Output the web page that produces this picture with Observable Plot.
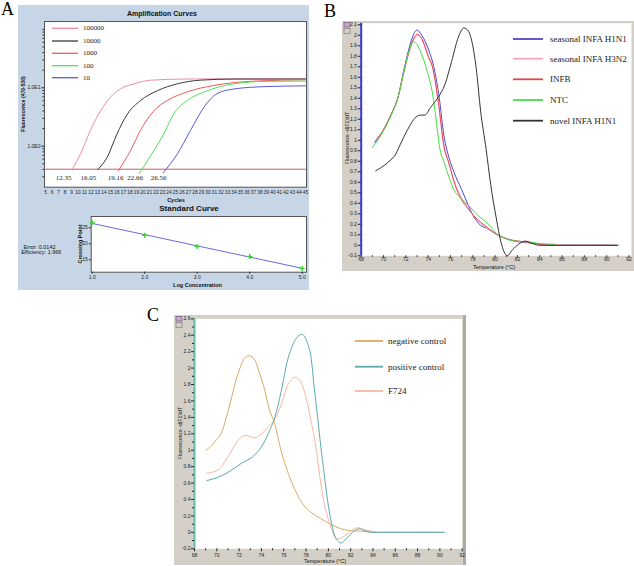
<!DOCTYPE html>
<html><head><meta charset="utf-8">
<script src="https://cdn.jsdelivr.net/npm/d3@7"></script>
<script src="https://cdn.jsdelivr.net/npm/@observablehq/plot@0.6"></script>
<style>
html,body{margin:0;padding:0;background:#fff;}
#root{position:relative;width:634px;height:566px;overflow:hidden;font-family:'Liberation Sans',Arial,sans-serif;}
.abs{position:absolute;}
.abs svg{max-width:none;}
</style></head><body><div id="root"></div>
<script>
// ---------- Panel A: amplification curves ----------
const ampSeries = ["100000", "10000", "1000", "100", "10"];
const ampColors = ["#f08ca4", "#3a3a3a", "#f05a5a", "#55e055", "#5a5ad8"];
const cyc100000 = [9.1, 10.4, 11.9, 13.5, 15.0, 16.5, 18.6, 21.2, 26.3, 35, 45];
const flu100000 = [0.40, 0.74, 1.86, 4.07, 6.92, 9.55, 11.7, 13.5, 14.1, 14.3, 14.3];
const cyc10000 = [13.05, 14.5, 16.0, 17.6, 19.6, 22.2, 25.3, 28.8, 34, 45];
const flu10000 = [0.40, 0.65, 1.62, 3.55, 6.03, 8.91, 11.7, 13.5, 14.1, 14.1];
const cyc1000 = [16.2, 18.1, 19.6, 21.7, 23.7, 26.8, 30.9, 36.5, 45];
const flu1000 = [0.38, 0.85, 1.86, 4.07, 6.03, 8.51, 10.96, 12.9, 13.7];
const cyc100 = [19.4, 21.7, 23.2, 24.7, 26.8, 29.9, 34, 39.1, 45];
const flu100 = [0.34, 0.85, 1.62, 3.55, 6.03, 8.91, 11.7, 12.9, 13.0];
const cyc10 = [23.1, 25.3, 27.3, 29.4, 31.4, 34, 39.1, 45];
const flu10 = [0.35, 0.74, 1.86, 4.68, 7.94, 9.55, 10.5, 10.8];
const threshold = 0.404;
const ctLabels = ["12.35", "16.05", "19.16", "22.66", "26.56"];
const ctLabelCycle = [7.8, 11.6, 15.8, 18.8, 22.4];
const cycleTicks = d3.range(5, 46);
// Standard curve
const logConc = [1, 2, 3, 4, 5];
const crossingPoint = [26.56, 22.66, 19.16, 16.05, 12.35];
const stdError = "Error: 0.0142";
const stdEff = "Efficiency: 1.966";

// ---------- Panel B: melting curves ----------
const bSeries = ["seasonal INFA H1N1", "seasonal INFA H3N2", "INFB", "NTC", "novel INFA H1N1"];
const bColors = ["#4848c8", "#f4a6bc", "#e4434f", "#44e044", "#333333"];
const tH1N1 = [69.2, 70.0, 70.7, 71.3, 71.8, 72.3, 72.7, 73.0, 73.3, 73.9, 74.5, 75.0, 75.4, 75.7, 76.3, 77.0, 77.6, 78.1, 78.7, 79.3, 80.2, 81.1, 82.0, 82.9, 84.1, 85.3, 91.0];
const vH1N1 = [0.98, 1.10, 1.25, 1.41, 1.66, 1.88, 2.01, 2.05, 2.02, 1.90, 1.70, 1.40, 1.05, 0.90, 0.70, 0.53, 0.38, 0.27, 0.19, 0.16, 0.10, 0.06, 0.035, 0.025, 0.01, 0, 0];
const tH3N2 = [69.3, 70.0, 70.7, 71.3, 71.8, 72.3, 72.7, 73.1, 73.5, 74.0, 74.4, 74.9, 75.4, 75.9, 76.3, 76.9, 77.5, 78.1, 78.7, 79.3, 80.2, 81.1, 82.0, 82.9, 84.1, 85.3, 90.7];
const vH3N2 = [0.97, 1.10, 1.25, 1.41, 1.64, 1.84, 1.95, 2.00, 1.96, 1.81, 1.70, 1.40, 0.97, 0.76, 0.62, 0.47, 0.37, 0.28, 0.21, 0.16, 0.10, 0.06, 0.04, 0.03, 0.01, 0, 0];
const tINFB = [69.3, 70.0, 70.7, 71.3, 71.8, 72.3, 72.7, 73.0, 73.4, 74.0, 74.4, 74.9, 75.4, 75.9, 76.3, 76.9, 77.5, 78.1, 78.7, 79.3, 80.2, 81.1, 82.0, 82.9, 84.1, 85.3, 90.7];
const vINFB = [1.00, 1.10, 1.25, 1.41, 1.64, 1.85, 1.97, 2.01, 1.97, 1.80, 1.69, 1.37, 0.95, 0.77, 0.61, 0.45, 0.36, 0.28, 0.22, 0.17, 0.10, 0.06, 0.04, 0.03, 0.01, 0, 0];
const tNTC = [69.0, 69.6, 70.3, 70.7, 71.3, 71.8, 72.2, 72.7, 73.3, 73.9, 74.4, 74.7, 75.0, 75.5, 75.9, 76.3, 76.9, 77.8, 78.4, 79.1, 79.6, 80.2, 80.8, 81.7, 82.9, 84.1, 85.4];
const vNTC = [0.93, 1.02, 1.15, 1.24, 1.41, 1.64, 1.82, 1.94, 1.85, 1.66, 1.44, 1.21, 0.95, 0.77, 0.64, 0.53, 0.45, 0.36, 0.29, 0.23, 0.18, 0.10, 0.07, 0.04, 0.035, 0.015, 0.01];
const tNovel = [69.3, 70.4, 71.1, 71.5, 72.1, 72.9, 73.3, 73.7, 74.2, 74.9, 75.5, 76.1, 76.7, 77.2, 77.6, 78.3, 78.7, 79.2, 79.6, 80.1, 80.5, 81.1, 81.5, 82.1, 82.7, 83.4, 84.0, 91.0];
const vNovel = [0.71, 0.79, 0.87, 0.96, 1.09, 1.22, 1.24, 1.24, 1.31, 1.41, 1.53, 1.75, 1.98, 2.07, 2.04, 1.69, 1.28, 0.91, 0.58, 0.26, 0.04, -0.10, -0.05, 0.01, 0.04, 0.015, 0, 0];

// ---------- Panel C: melting curves ----------
const cSeries = ["negative control", "positive control", "F724"];
const cColors = ["#d9a962", "#5eaaaa", "#f7b6a4"];
const tNeg = [69.05, 69.8, 70.5, 71.0, 71.9, 72.5, 72.9, 73.4, 73.8, 74.3, 74.7, 75.2, 75.75, 76.35, 77.0, 77.8, 78.4, 79.3, 80.2, 81.1, 82.0, 82.9, 84.1, 90.4];
const vNeg = [1.00, 1.10, 1.24, 1.47, 1.93, 2.12, 2.15, 2.10, 1.95, 1.73, 1.50, 1.32, 1.00, 0.74, 0.52, 0.33, 0.25, 0.17, 0.10, 0.045, 0.02, 0.015, 0, 0];
const tPos = [69.1, 70.1, 71.0, 72.2, 73.2, 74.0, 74.6, 75.2, 75.76, 76.35, 76.94, 77.39, 77.63, 78.14, 78.44, 78.73, 79.04, 79.33, 79.63, 79.93, 80.23, 80.52, 80.83, 81.12, 81.57, 82.17, 82.76, 83.36, 84.0, 90.4];
const vPos = [0.63, 0.67, 0.73, 0.84, 0.92, 1.04, 1.20, 1.40, 1.71, 2.10, 2.32, 2.40, 2.41, 2.30, 2.14, 1.77, 1.40, 1.04, 0.71, 0.39, 0.15, -0.02, -0.10, -0.13, -0.08, 0.0, 0.045, 0.016, 0, 0];
const tF724 = [69.1, 70.1, 71.0, 71.9, 72.6, 73.4, 74.0, 74.6, 75.3, 75.76, 76.35, 77.1, 77.54, 77.99, 78.44, 78.73, 79.04, 79.33, 79.63, 79.93, 80.23, 80.52, 80.83, 81.27, 81.86, 82.6, 83.2, 83.8, 84.4, 90.4];
const vF724 = [0.72, 0.76, 0.92, 1.12, 1.18, 1.15, 1.20, 1.28, 1.40, 1.55, 1.79, 1.89, 1.83, 1.65, 1.36, 1.16, 0.88, 0.59, 0.35, 0.19, 0.065, -0.04, -0.08, -0.06, 0.0, 0.057, 0.033, 0.016, 0, 0];

// ---------- helpers ----------
const root = document.getElementById("root");
function box(l, t, w, h, bg) {
  const d = document.createElement("div"); d.className = "abs";
  Object.assign(d.style, {left: l + "px", top: t + "px", width: w + "px", height: h + "px", background: bg});
  root.appendChild(d); return d;
}
function place(svg, l, t) {
  const d = document.createElement("div"); d.className = "abs";
  d.style.left = l + "px"; d.style.top = t + "px";
  d.appendChild(svg); root.appendChild(d);
}
const sans = "'Liberation Sans', Arial, sans-serif";
const serif = "'Liberation Serif', 'Times New Roman', serif";
const baseStyle = {background: "transparent", fontFamily: sans, fontSize: "5px", color: "#222", overflow: "visible"};
const fmt1 = d => String(+d.toFixed(1));

// ---------- backgrounds ----------
box(18, 5, 291, 285, "#c6d6e6");
box(342, 21, 292, 250, "#d4d0c8");
box(174, 315, 292, 250, "#d4d0c8");
box(462.5, 315, 3.5, 250, "#aeaaa4");

// ---------- A: amplification ----------
const amp = ampSeries.flatMap((s, i) => {
  const cs = [cyc100000, cyc10000, cyc1000, cyc100, cyc10][i];
  const fs = [flu100000, flu10000, flu1000, flu100, flu10][i];
  return cs.map((c, j) => ({series: s, cycle: c, f: fs[j]}));
});
const minorLog = [0.3,0.4,0.5,0.6,0.7,0.8,0.9,2,3,4,5,6,7,8,9,20,30,40,50,60,70,80,90,100];
place(Plot.plot({
  width: 291, height: 200, marginLeft: 26, marginRight: 3, marginTop: 16, marginBottom: 18.3,
  style: baseStyle,
  x: {domain: [4.85, 45.15]},
  y: {type: "log", domain: [10 ** -0.702, 10 ** 2.135]},
  color: {domain: ampSeries, range: ampColors},
  marks: [
    Plot.frame({fill: "white", stroke: "#555"}),
    Plot.ruleY([threshold], {stroke: "#c8605a", strokeWidth: 1}),
    Plot.line(amp, {x: "cycle", y: "f", z: "series", stroke: "series", curve: "monotone-x", strokeWidth: 1}),
    Plot.text(ctLabels, {x: (d, i) => ctLabelCycle[i], y: () => threshold, dy: 8.5, text: d => d, fontFamily: serif, fontSize: 7, fill: "#222"}),
    Plot.axisX({ticks: cycleTicks, tickSize: 0, tickPadding: 3, fontSize: 4.8, label: null}),
    Plot.axisY({ticks: minorLog, tickSize: 1.5, tickFormat: () => "", label: null}),
    Plot.axisY({ticks: [1, 10], tickFormat: d => d === 1 ? "1.0E0" : "1.0E1", tickSize: 2.5, tickPadding: 1.5, label: null})
  ]
}), 18, 5);

// ---------- A: standard curve ----------
const std = logConc.map((c, i) => ({c, cp: crossingPoint[i]}));
place(Plot.plot({
  width: 291, height: 85, marginLeft: 72.7, marginRight: 3, marginTop: 11, marginBottom: 18.3,
  style: baseStyle,
  x: {domain: [0.981, 5.082]},
  y: {domain: [11.13, 28.53]},
  marks: [
    Plot.frame({fill: "white", stroke: "#555"}),
    Plot.linearRegressionY(std, {x: "c", y: "cp", stroke: "#6a6ad8", strokeWidth: 1, ci: 0}),
    Plot.dot(std, {x: "c", y: "cp", symbol: "plus", r: 1.8, stroke: "#2ed82e", strokeWidth: 1.3}),
    Plot.axisX({ticks: logConc, tickSize: 2, tickPadding: 1, label: null}),
    Plot.axisY({ticks: [15, 20, 25], tickSize: 2, tickPadding: 1.4, label: null})
  ]
}), 18, 205);

// ---------- B ----------
const bT = [tH1N1, tH3N2, tINFB, tNTC, tNovel];
const bV = [vH1N1, vH3N2, vINFB, vNTC, vNovel];
const bData = bSeries.flatMap((s, i) => bT[i].map((t, j) => ({series: s, t, v: bV[i][j]})));
const bX = [68, 92.22];
place(Plot.plot({
  width: 292, height: 250, marginLeft: 18.7, marginRight: 3, marginTop: 1.7, marginBottom: 15.7,
  style: baseStyle,
  x: {domain: bX},
  y: {domain: [-0.1, 2.115]},
  color: {domain: bSeries, range: bColors},
  marks: [
    Plot.frame({fill: "white", stroke: null}),
    Plot.line(bData, {x: "t", y: "v", z: "series", stroke: "series", curve: "monotone-x", strokeWidth: 1}),
    Plot.ruleX([bX[0]], {stroke: "#3a3ad2", strokeWidth: 2}),
    Plot.axisY({ticks: d3.range(-1, 22).map(k => k / 10), tickFormat: fmt1, tickSize: 3, tickPadding: 1.3, label: null}),
    Plot.axisX({ticks: d3.range(69, 92, 2), tickFormat: () => "", tickSize: 1.5, label: null}),
    Plot.axisX({ticks: d3.range(68, 93, 2), tickSize: 2, tickPadding: -0.3, label: null})
  ]
}), 342, 21);

// ---------- C ----------
const cT = [tNeg, tF724, tPos];
const cV = [vNeg, vF724, vPos];
const cOrder = [cSeries[0], cSeries[2], cSeries[1]];
const cData = cOrder.flatMap((s, i) => cT[i].map((t, j) => ({series: s, t, v: cV[i][j]})));
const cX = [68, 92];
place(Plot.plot({
  width: 292, height: 250, marginLeft: 20, marginRight: 4.3, marginTop: 3.3, marginBottom: 16.7,
  style: baseStyle,
  x: {domain: cX},
  y: {domain: [-0.2, 2.6]},
  color: {domain: cSeries, range: cColors},
  marks: [
    Plot.frame({fill: "white", stroke: null}),
    Plot.line(cData, {x: "t", y: "v", z: "series", stroke: "series", curve: "monotone-x", strokeWidth: 1}),
    Plot.ruleX([cX[0]], {stroke: "#62bcac", strokeWidth: 2}),
    Plot.axisY({ticks: d3.range(-1, 26, 2).map(k => k / 10), tickFormat: () => "", tickSize: 2, label: null}),
    Plot.axisY({ticks: d3.range(-2, 27, 2).map(k => k / 10), tickFormat: fmt1, tickSize: 3, tickPadding: 1, label: null}),
    Plot.axisX({ticks: d3.range(69, 92, 2), tickFormat: () => "", tickSize: 2, label: null}),
    Plot.axisX({ticks: d3.range(68, 93, 2), tickSize: 3, tickPadding: 1.5, label: null})
  ]
}), 174, 315);

// ---------- overlay texts / legends ----------
const ov = d3.create("svg").attr("width", 634).attr("height", 566)
  .style("position", "absolute").style("left", "0px").style("top", "0px").style("overflow", "visible");
root.appendChild(ov.node());
function txt(x, y, s, o = {}) {
  const e = ov.append("text").attr("x", x).attr("y", y).text(s)
    .attr("font-family", o.ff || sans).attr("font-size", o.fs || 5)
    .attr("text-anchor", o.anchor || "middle").attr("dominant-baseline", o.base || "central")
    .attr("font-weight", o.fw || "normal").attr("fill", o.fill || "#111");
  if (o.rot) e.attr("transform", `rotate(${o.rot},${x},${y})`);
  return e;
}
function seg(x1, x2, y, c, w) {
  ov.append("line").attr("x1", x1).attr("x2", x2).attr("y1", y).attr("y2", y).attr("stroke", c).attr("stroke-width", w);
}
// panel letters
txt(1, 15, "A", {ff: serif, fs: 18, anchor: "start", base: "auto", fill: "#000"});
txt(324, 16.7, "B", {ff: serif, fs: 18, anchor: "start", base: "auto", fill: "#000"});
txt(147, 321, "C", {ff: serif, fs: 18, anchor: "start", base: "auto", fill: "#000"});
// A titles
txt(162, 13, "Amplification Curves", {fs: 7, fw: "bold"});
txt(23, 104, "Fluorescence (470-530)", {fs: 5, fw: "bold", rot: -90});
txt(176, 199.5, "Cycles", {fs: 5.5, fw: "bold"});
txt(189, 208.5, "Standard Curve", {fs: 8, fw: "bold"});
txt(80, 244, "Crossing Point", {fs: 5.5, fw: "bold", rot: -90});
txt(197.5, 285, "Log Concentration", {fs: 5.5, fw: "bold"});
txt(39.5, 246.7, stdError, {fs: 5.5});
txt(41.3, 251.7, stdEff, {fs: 5.5});
// A legend
const aLegY = [28.3, 41, 53.3, 65.7, 77.7];
ampSeries.forEach((s, i) => { seg(52, 78, aLegY[i], ampColors[i], 1.3); txt(83, aLegY[i], s, {ff: serif, fs: 7, anchor: "start", fill: "#222"}); });
// B labels + legend
txt(347, 138, "Fluorescence -d(F1)/dT", {fs: 5, rot: -90});
txt(494, 267.3, "Temperature (\u00B0C)", {fs: 5.5});
const bLegY = [39, 58.7, 79.3, 100, 120.7];
bSeries.forEach((s, i) => { seg(513, 543, bLegY[i], bColors[i], 1.8); txt(550, bLegY[i], s, {ff: serif, fs: 9, anchor: "start", fill: "#222"}); });
// C labels + legend
txt(180, 433, "Fluorescence -d(F1)/dT", {fs: 5, rot: -90});
txt(325, 561, "Temperature (\u00B0C)", {fs: 5.5});
const cLegY = [341, 366.7, 391];
cSeries.forEach((s, i) => { seg(355, 383, cLegY[i], cColors[i], 1.8); txt(388, cLegY[i], s, {ff: serif, fs: 9, anchor: "start", fill: "#222"}); });
// small toolbar icons in B and C frames
[[344, 22.5], [176, 316.5]].forEach(([x, y]) => {
  ov.append("rect").attr("x", x).attr("y", y).attr("width", 6).attr("height", 4.5).attr("fill", "#c8a8d0").attr("stroke", "#604870").attr("stroke-width", 0.6);
  ov.append("rect").attr("x", x).attr("y", y + 6).attr("width", 6).attr("height", 5).attr("fill", "none").attr("stroke", "#707070").attr("stroke-width", 0.6);
});
</script></body></html>
